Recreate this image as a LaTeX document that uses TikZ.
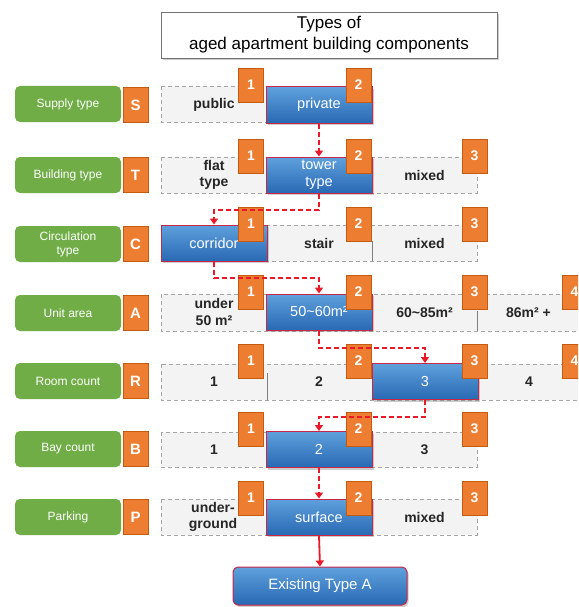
\documentclass[tikz,border=0pt]{standalone}
\usepackage{fontspec}
\setmainfont{Liberation Sans}
\usetikzlibrary{arrows.meta,shadows}
\definecolor{lgreen}{RGB}{112,173,71}
\definecolor{orng}{RGB}{237,125,49}
\definecolor{orngd}{RGB}{197,90,17}
\definecolor{bluetop}{RGB}{95,160,220}
\definecolor{bluebot}{RGB}{40,105,180}
\definecolor{selred}{RGB}{200,40,70}
\definecolor{connred}{RGB}{235,25,40}
\definecolor{cellgray}{RGB}{243,243,243}
\definecolor{dashgray}{RGB}{165,165,165}
\begin{document}
\begin{tikzpicture}[x=1pt,y=-1pt,
  titlebox/.style={draw=black!55, fill=white, line width=0.8pt, minimum width=336pt, minimum height=46pt, inner sep=0pt, align=center, font=\fontsize{17}{21}\selectfont, drop shadow={opacity=0.4, shadow xshift=1.5pt, shadow yshift=-2pt}},
  lab/.style={rounded corners=5pt, fill=lgreen, minimum width=106pt, minimum height=36pt, inner sep=0pt, text=white, align=center, font=\fontsize{12}{14}\selectfont},
  letter/.style={fill=orng, draw=orngd, line width=0.6pt, minimum width=25pt, minimum height=35pt, inner sep=0pt, text=white, font=\bfseries\fontsize{15}{15}\selectfont},
  cellrow/.style={fill=cellgray, draw=dashgray, dash pattern=on 4pt off 3pt, line width=0.9pt},
  celltext/.style={inner sep=0pt, align=center, text=black!85, font=\bfseries\fontsize{14}{16.5}\selectfont},
  sel/.style={top color=bluetop, bottom color=bluebot, draw=selred, line width=1pt, minimum width=106pt, minimum height=36pt, inner sep=0pt, text=white, align=center, font=\fontsize{14.5}{16.5}\selectfont, drop shadow={opacity=0.4, shadow xshift=1.5pt, shadow yshift=-2pt}},
  badge/.style={fill=orng, draw=orngd, line width=0.6pt, minimum width=25pt, minimum height=34pt, inner sep=0pt, text=white, font=\bfseries\fontsize{14}{14}\selectfont},
  divline/.style={draw=black!50, line width=0.8pt},
  conn/.style={draw=connred, dash pattern=on 5pt off 3pt, line width=2pt, -{Triangle[length=6pt,width=8pt]}},
  connsolid/.style={draw=connred, line width=1.8pt, -{Triangle[length=6pt,width=8pt]}}
]
\useasboundingbox (0,0) rectangle (578,607);
\fill[white] (0,0) rectangle (578,607);
\clip (0,0) rectangle (578,607);

% title
\node[titlebox] (title) at (329,35) {Types of\\aged apartment building components};

% row backgrounds
\draw[cellrow] (161,86) rectangle (372,122);
\draw[cellrow] (161,157) rectangle (477,193);
\draw[cellrow] (161,225) rectangle (477,261);
\draw[cellrow] (161,294) rectangle (600,331);
\draw[cellrow] (161,364) rectangle (600,400);
\draw[cellrow] (161,432) rectangle (477,467);
\draw[cellrow] (161,499) rectangle (477,535);

% dividers
\draw[divline] (372,241) -- (372,261);
\draw[divline] (477,311) -- (477,331);
\draw[divline] (267,373) -- (267,400);

% green labels and letters
\node[lab] (lS) at (68,104) {Supply type};
\node[lab] (lT) at (68,175) {Building type};
\node[lab] (lC) at (68,244) {Circulation\\type};
\node[lab] (lA) at (68,313) {Unit area};
\node[lab] (lR) at (68,381) {Room count};
\node[lab] (lB) at (68,449) {Bay count};
\node[lab] (lP) at (68,517) {Parking};
\node[letter] (kS) at (135.5,105) {S};
\node[letter] (kT) at (135.5,175) {T};
\node[letter] (kC) at (135.5,244) {C};
\node[letter] (kA) at (135.5,313) {A};
\node[letter] (kR) at (135.5,381) {R};
\node[letter] (kB) at (135.5,449) {B};
\node[letter] (kP) at (135.5,517) {P};

% gray cell texts
\node[celltext] (s1) at (214,105) {public};
\node[celltext] (t1) at (214,175) {flat\\type};
\node[celltext] (t3) at (424.5,175) {mixed};
\node[celltext] (c2) at (319,243) {stair};
\node[celltext] (c3) at (424.5,243) {mixed};
\node[celltext] (a1) at (214,312) {under\\50 m²};
\node[celltext] (a3) at (424.5,313) {60\textasciitilde85m²};
\node[celltext] (a4) at (528.5,313) {86m² +};
\node[celltext] (r1) at (214,382) {1};
\node[celltext] (r2) at (319,382) {2};
\node[celltext] (r4) at (529,382) {4};
\node[celltext] (b1) at (214,450) {1};
\node[celltext] (b3) at (424.5,450) {3};
\node[celltext] (p1) at (213,517) {under-\\ground};
\node[celltext] (p3) at (424.5,517) {mixed};

% selected boxes
\node[sel] (sS) at (319,105) {private};
\node[sel] (sT) at (319,175) {tower\\type};
\node[sel] (sC) at (214,243) {corridor};
\node[sel] (sA) at (319,312) {50\textasciitilde60m²};
\node[sel] (sR) at (425,381.5) {3};
\node[sel] (sB) at (319,449.5) {2};
\node[sel] (sP) at (319,517) {surface};
\node[sel, rounded corners=5pt, minimum width=174pt, minimum height=38pt, font=\fontsize{15}{17}\selectfont] (res) at (320,586) {Existing Type A};

% badges
\foreach \r/\c in {S/104, T/175, C/243, P/517} {
  \node[badge] (b1\r) at (251,\c-19) {1};
  \node[badge] (b2\r) at (358.5,\c-19) {2};
}
\foreach \r/\c in {A/312, R/381, B/449} {
  \node[badge] (b1\r) at (251,\c-20) {1};
  \node[badge] (b2\r) at (358.5,\c-20) {2};
}
\foreach \r/\c in {T/175, C/243, P/517} {
  \node[badge] (b3\r) at (474.5,\c-19) {3};
}
\foreach \r/\c in {A/312, R/381, B/449} {
  \node[badge] (b3\r) at (474.5,\c-20) {3};
}
\node[badge] (b4A) at (574.5,292) {4};
\node[badge] (b4R) at (574.5,361) {4};

% connectors
\draw[conn] (sS.south) -- (sT.north);
\draw[conn] (sT.south) -- ++(0,16) -| (sC.north);
\draw[conn] (sC.south) -- ++(0,16) -| (sA.north);
\draw[conn] (sA.south) -- ++(0,17) -| (sR.north);
\draw[conn] (sR.south) -- ++(0,17) -| (sB.north);
\draw[conn] (sB.south) -- (sP.north);
\draw[connsolid] (sP.south) -- (res.north);
\end{tikzpicture}
\end{document}
